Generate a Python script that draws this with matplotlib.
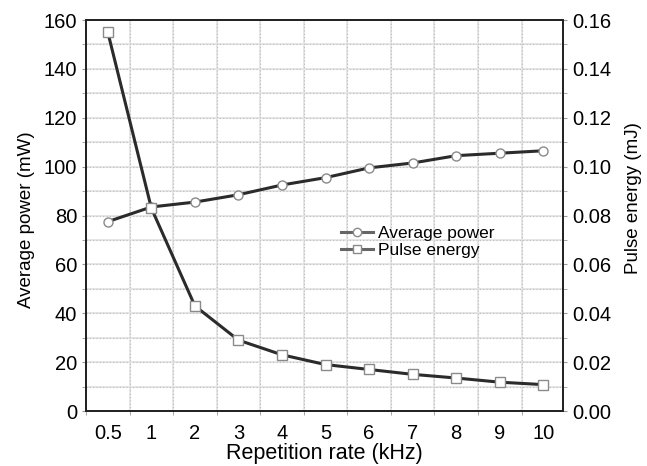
import numpy as np
import matplotlib
matplotlib.use("Agg")
import matplotlib.pyplot as plt
from matplotlib.ticker import MultipleLocator, FixedLocator

plt.rcParams['font.family'] = ['Liberation Sans', 'DejaVu Sans']

rate_labels = ["0.5", "1", "2", "3", "4", "5", "6", "7", "8", "9", "10"]
avg_power = [77.5, 83.5, 85.5, 88.5, 92.5, 95.5, 99.5, 101.5, 104.5, 105.5, 106.5]   # mW
pulse_energy = [0.155, 0.083, 0.043, 0.029, 0.023, 0.019, 0.017, 0.015, 0.0135, 0.0118, 0.0108]  # mJ

x = np.arange(len(rate_labels))

fig = plt.figure(figsize=(6.47, 4.66), dpi=100)
ax = fig.add_axes([0.133, 0.118, 0.737, 0.839])
ax2 = ax.twinx()

line_col = '#2b2b2b'
edge_col = '#8a8a8a'

# grid: light solid lines with dotted overlay
for yv in np.arange(10, 160, 10):
    ax.axhline(yv, color='#e6e6e6', lw=1.4, zorder=0)
    ax.axhline(yv, color='#bdbdbd', lw=0.8, ls=(0, (1, 2)), zorder=0)
for xv in np.arange(0.5, 10.5, 1):
    ax.axvline(xv, color='#e6e6e6', lw=1.4, zorder=0)
    ax.axvline(xv, color='#bdbdbd', lw=0.8, ls=(0, (1, 2)), zorder=0)

p1, = ax.plot(x, avg_power, color=line_col, lw=2.2, marker='o', ms=6.5,
              mfc='white', mec=edge_col, mew=1.0, label='Average power', zorder=3)
p2, = ax2.plot(x, pulse_energy, color=line_col, lw=2.2, marker='s', ms=6.5,
               mfc='white', mec=edge_col, mew=1.0, label='Pulse energy', zorder=3)

ax.set_xlim(-0.5, 10.45)
ax.set_ylim(0, 160)
ax2.set_ylim(0, 0.16)

ax.set_xticks(x)
ax.set_xticklabels(rate_labels)
ax.xaxis.set_minor_locator(FixedLocator(np.arange(-0.5, 10.6, 1)))
ax.tick_params(axis='x', which='major', length=0, pad=9, labelsize=14.5)
ax.tick_params(axis='x', which='minor', length=3, direction='out', color='#999999')

ax.yaxis.set_major_locator(MultipleLocator(20))
ax.yaxis.set_minor_locator(MultipleLocator(10))
ax.tick_params(axis='y', which='major', length=3, labelsize=14.5, color='#999999')
ax.tick_params(axis='y', which='minor', length=3, color='#999999')
ax.set_yticklabels([f"{int(v)}" for v in ax.get_yticks()])

ax2.yaxis.set_major_locator(MultipleLocator(0.02))
ax2.yaxis.set_minor_locator(MultipleLocator(0.01))
ax2.tick_params(axis='y', which='major', length=3, labelsize=14.5, color='#999999')
ax2.tick_params(axis='y', which='minor', length=3, color='#999999')
ax2.set_yticklabels([f"{v:.2f}" for v in ax2.get_yticks()])

for a in (ax, ax2):
    for s in a.spines.values():
        s.set_linewidth(1.3)
        s.set_color('#222222')

ax.set_xlabel('Repetition rate (kHz)', fontsize=15.5, labelpad=0)
ax.set_ylabel('Average power (mW)', fontsize=13.5)
ax2.set_ylabel('Pulse energy (mJ)', fontsize=13.5)
ax.yaxis.set_label_coords(-0.108, 0.49)
ax2.yaxis.set_label_coords(1.13, 0.545)

leg = ax2.legend(handles=[p1, p2], loc='upper left', bbox_to_anchor=(0.51, 0.505),
                 frameon=False, fontsize=12.5, handlelength=1.8, handletextpad=0.3,
                 labelspacing=0.1, borderpad=0.2)
for h in leg.legend_handles:
    h.set_color('#666666')
    h.set_markersize(6)

fig.savefig("out.png", dpi=100)
